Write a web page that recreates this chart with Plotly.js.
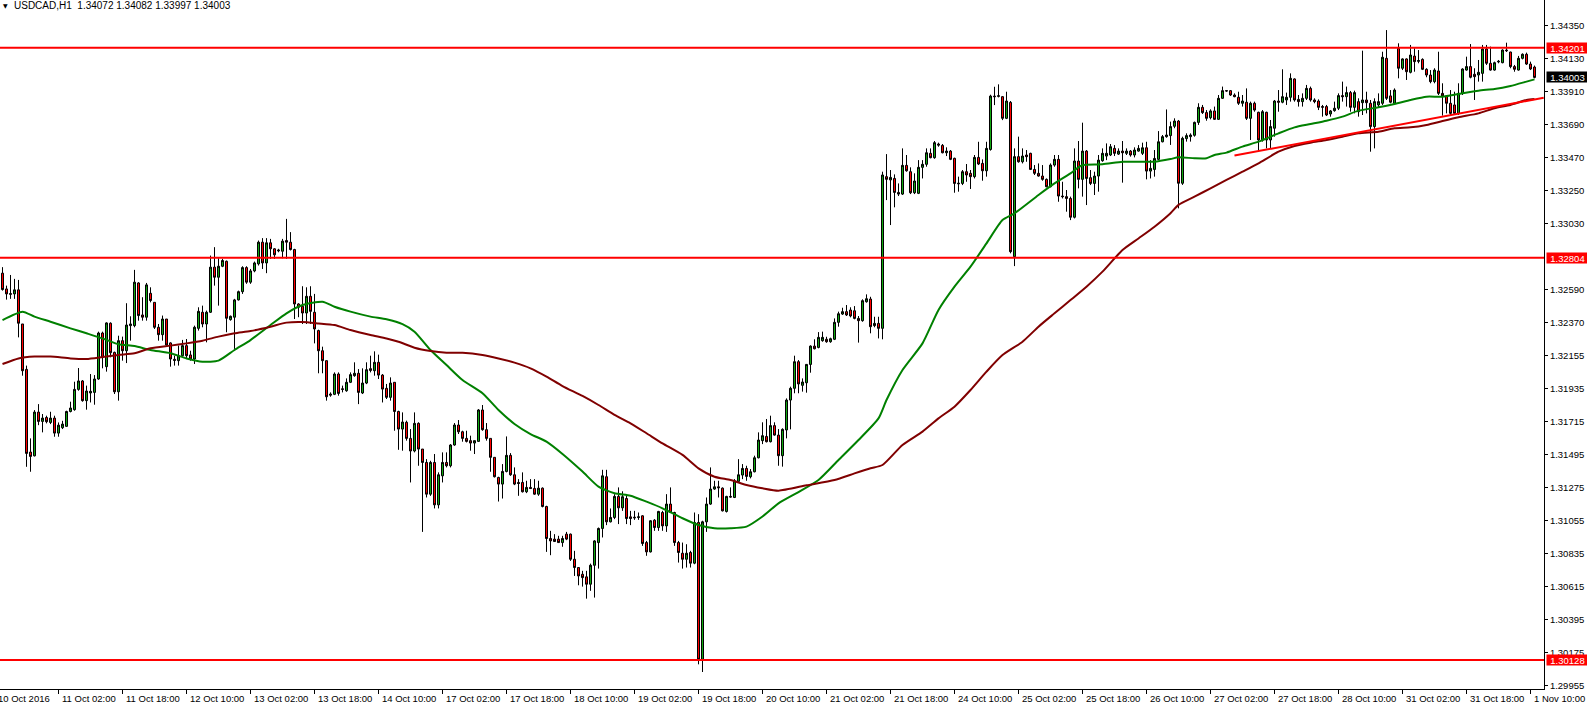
<!DOCTYPE html>
<html>
<head>
<meta charset="utf-8">
<script src="https://cdn.plot.ly/plotly-3.0.1.min.js"></script>
<style>
html,body{margin:0;padding:0;background:#fff;}
#chart{width:1587px;height:708px;}
</style>
</head>
<body>
<div id="chart"></div>
<script>
// ---------- DATA ----------
const symbolTitle = 'USDCAD,H1\u00a0\u00a01.34072 1.34082 1.33997 1.34003';

const open = [
1.32701,1.32596,1.32565,1.32563,1.32590,1.32363,1.32061,1.31511,1.31486,1.31777,
1.31715,1.31741,1.31708,1.31737,1.31637,1.31673,1.31682,1.31781,1.31793,1.31928,
1.31984,1.31853,1.31904,1.31908,1.31997,1.32303,1.32079,1.32368,1.32174,1.31912,
1.32252,1.32185,1.32352,1.32352,1.32636,1.32423,1.32408,1.32567,1.32507,1.32341,
1.32292,1.32396,1.32237,1.32128,1.32119,1.32152,1.32219,1.32157,1.32130,1.32334,
1.32441,1.32363,1.32441,1.32741,1.32674,1.32747,1.32780,1.32392,1.32408,1.32523,
1.32578,1.32738,1.32641,1.32716,1.32763,1.32907,1.32769,1.32903,1.32863,1.32849,
1.32847,1.32918,1.32907,1.32858,1.32496,1.32481,1.32436,1.32547,1.32441,1.32319,
1.32185,1.32119,1.31897,1.31895,1.32030,1.31932,1.31919,1.31975,1.32019,1.32035,
1.31904,1.31970,1.32066,1.32052,1.32108,1.32023,1.31935,1.31875,1.31975,1.31781,
1.31664,1.31709,1.31602,1.31518,1.31702,1.31531,1.31442,1.31231,1.31442,1.31160,
1.31353,1.31442,1.31420,1.31558,1.31691,1.31646,1.31602,1.31587,1.31571,1.31582,
1.31791,1.31660,1.31602,1.31476,1.31342,1.31298,1.31382,1.31489,1.31360,1.31309,
1.31309,1.31247,1.31276,1.31269,1.31231,1.31271,1.31149,1.30936,1.30932,1.30932,
1.30909,1.30965,1.30965,1.30798,1.30743,1.30698,1.30681,1.30632,1.30758,1.30909,
1.31003,1.31347,1.31047,1.31076,1.31216,1.31140,1.31202,1.31080,1.31078,1.31076,
1.31087,1.30909,1.30847,1.31058,1.31009,1.31109,1.31020,1.31165,1.31109,1.30909,
1.30838,1.30798,1.30843,1.30772,1.31043,1.30132,1.31047,1.31165,1.31265,1.31280,
1.31271,1.31116,1.31216,1.31209,1.31316,1.31358,1.31402,1.31347,1.31380,1.31473,
1.31587,1.31615,1.31580,1.31687,1.31624,1.31487,1.31658,1.31857,1.31935,1.32112,
1.31955,1.31972,1.32094,1.32216,1.32207,1.32252,1.32261,1.32245,1.32261,1.32374,
1.32429,1.32445,1.32456,1.32451,1.32400,1.32385,1.32511,1.32529,1.32352,1.32367,
1.32334,1.33343,1.33321,1.33331,1.33238,1.33227,1.33418,1.33376,1.33236,1.33232,
1.33405,1.33425,1.33498,1.33469,1.33560,1.33551,1.33502,1.33513,1.33465,1.33300,
1.33298,1.33376,1.33365,1.33343,1.33471,1.33431,1.33382,1.33524,1.33879,1.33877,
1.33875,1.33731,1.33837,1.32811,1.33476,1.33442,1.33487,1.33498,1.33391,1.33365,
1.33347,1.33325,1.33276,1.33420,1.33458,1.33214,1.33210,1.33198,1.33073,1.33447,
1.33325,1.33513,1.33336,1.33298,1.33347,1.33449,1.33480,1.33487,1.33531,1.33493,
1.33513,1.33498,1.33513,1.33487,1.33513,1.33498,1.33535,1.33380,1.33391,1.33458,
1.33575,1.33609,1.33616,1.33678,1.33713,1.33299,1.33596,1.33609,1.33618,1.33704,
1.33804,1.33769,1.33735,1.33780,1.33724,1.33864,1.33915,1.33915,1.33886,1.33871,
1.33831,1.33838,1.33731,1.33831,1.33771,1.33587,1.33771,1.33587,1.33665,1.33846,
1.33838,1.33853,1.33871,1.33993,1.33857,1.33842,1.33864,1.33930,1.33853,1.33846,
1.33809,1.33809,1.33760,1.33782,1.33798,1.33882,1.33875,1.33902,1.33804,1.33842,
1.33835,1.33853,1.33831,1.33676,1.33820,1.33831,1.34130,1.33880,1.33831,1.34197,
1.34064,1.34126,1.34037,1.34145,1.34110,1.34123,1.34057,1.34019,1.33975,1.34046,
1.33897,1.33880,1.33831,1.33820,1.33764,1.33897,1.34052,1.34075,1.34024,1.34019,
1.34030,1.34192,1.34097,1.34052,1.34106,1.34101,1.34185,1.34172,1.34075,1.34052,
1.34130,1.34157,1.34092,1.34072];

const high = [
1.32741,1.32618,1.32689,1.32663,1.32656,1.32363,1.32086,1.31602,1.31790,1.31830,
1.31764,1.31753,1.31779,1.31753,1.31708,1.31719,1.31786,1.31846,1.31979,1.32070,
1.31990,1.31953,1.32030,1.32023,1.32312,1.32312,1.32374,1.32374,1.32179,1.32285,
1.32279,1.32501,1.32414,1.32723,1.32641,1.32541,1.32636,1.32607,1.32507,1.32363,
1.32419,1.32396,1.32241,1.32152,1.32219,1.32257,1.32263,1.32185,1.32352,1.32474,
1.32485,1.32452,1.32818,1.32874,1.32800,1.32796,1.32785,1.32419,1.32530,1.32585,
1.32747,1.32747,1.32729,1.32778,1.32918,1.32934,1.32934,1.32929,1.32867,1.32863,
1.32929,1.33062,1.32974,1.32863,1.32501,1.32614,1.32607,1.32614,1.32563,1.32325,
1.32212,1.32119,1.31908,1.32041,1.32041,1.31953,1.32001,1.32041,1.32108,1.32063,
1.32068,1.32108,1.32152,1.32181,1.32159,1.32030,1.31964,1.32008,1.31975,1.31786,
1.31775,1.31720,1.31664,1.31775,1.31709,1.31531,1.31464,1.31453,1.31498,1.31376,
1.31509,1.31509,1.31564,1.31704,1.31724,1.31653,1.31653,1.31620,1.31587,1.31797,
1.31824,1.31704,1.31602,1.31476,1.31347,1.31431,1.31615,1.31504,1.31409,1.31331,
1.31376,1.31320,1.31331,1.31331,1.31320,1.31276,1.31154,1.30987,1.30965,1.30954,
1.30954,1.30980,1.30969,1.30854,1.30743,1.30721,1.30721,1.30769,1.30925,1.31009,
1.31393,1.31393,1.31136,1.31231,1.31276,1.31250,1.31231,1.31120,1.31120,1.31109,
1.31091,1.30920,1.31058,1.31065,1.31120,1.31120,1.31231,1.31276,1.31114,1.30920,
1.30909,1.30898,1.30854,1.31109,1.31098,1.31054,1.31209,1.31409,1.31320,1.31320,
1.31276,1.31220,1.31276,1.31331,1.31464,1.31431,1.31420,1.31398,1.31487,1.31642,
1.31709,1.31731,1.31753,1.31709,1.31664,1.31669,1.31868,1.31946,1.32152,1.32123,
1.32001,1.32097,1.32221,1.32261,1.32309,1.32312,1.32278,1.32272,1.32400,1.32445,
1.32471,1.32489,1.32474,1.32482,1.32416,1.32527,1.32560,1.32544,1.32411,1.32411,
1.33376,1.33493,1.33387,1.33358,1.33298,1.33531,1.33487,1.33405,1.33365,1.33453,
1.33453,1.33531,1.33531,1.33580,1.33569,1.33560,1.33538,1.33520,1.33469,1.33343,
1.33387,1.33427,1.33387,1.33487,1.33575,1.33458,1.33575,1.33888,1.33941,1.33957,
1.33879,1.33908,1.33846,1.33531,1.33609,1.33531,1.33520,1.33502,1.33420,1.33431,
1.33420,1.33331,1.33431,1.33487,1.33487,1.33309,1.33254,1.33210,1.33531,1.33580,
1.33702,1.33520,1.33387,1.33376,1.33487,1.33531,1.33564,1.33560,1.33553,1.33531,
1.33580,1.33531,1.33520,1.33538,1.33553,1.33569,1.33575,1.33453,1.33520,1.33646,
1.33620,1.33790,1.33709,1.33731,1.33720,1.33609,1.33631,1.33631,1.33709,1.33831,
1.33820,1.33786,1.33791,1.33809,1.33886,1.33942,1.33919,1.33919,1.33897,1.33908,
1.33886,1.33930,1.33842,1.33842,1.33775,1.33786,1.33775,1.33720,1.33853,1.33919,
1.34057,1.33902,1.34030,1.33997,1.33886,1.33897,1.33953,1.33942,1.33864,1.33857,
1.33820,1.33820,1.33786,1.33842,1.33897,1.33975,1.33942,1.33913,1.33915,1.33864,
1.34181,1.33908,1.33853,1.33864,1.33897,1.34174,1.34318,1.33919,1.33930,1.34230,
1.34130,1.34130,1.34219,1.34197,1.34185,1.34130,1.34064,1.34052,1.34064,1.34174,
1.33964,1.33880,1.33919,1.33908,1.33964,1.34064,1.34141,1.34225,1.34064,1.34119,
1.34219,1.34219,1.34208,1.34108,1.34119,1.34190,1.34234,1.34174,1.34086,1.34146,
1.34163,1.34168,1.34108,1.34082];

const low = [
1.32585,1.32525,1.32530,1.32530,1.32274,1.32019,1.31413,1.31380,1.31482,1.31690,
1.31642,1.31702,1.31697,1.31613,1.31613,1.31664,1.31679,1.31775,1.31786,1.31919,
1.31846,1.31793,1.31841,1.31826,1.31992,1.32068,1.32046,1.32141,1.31897,1.31853,
1.32119,1.32103,1.32252,1.32341,1.32385,1.32385,1.32385,1.32507,1.32330,1.32252,
1.32252,1.32219,1.32079,1.32086,1.32086,1.32146,1.32130,1.32119,1.32097,1.32319,
1.32341,1.32241,1.32436,1.32618,1.32485,1.32741,1.32308,1.32385,1.32197,1.32519,
1.32563,1.32630,1.32630,1.32707,1.32752,1.32729,1.32701,1.32796,1.32796,1.32840,
1.32800,1.32796,1.32852,1.32396,1.32408,1.32363,1.32363,1.32363,1.32234,1.32035,
1.32035,1.31853,1.31879,1.31890,1.31886,1.31908,1.31912,1.31970,1.32012,1.31830,
1.31897,1.31963,1.32041,1.32019,1.31997,1.31841,1.31864,1.31853,1.31653,1.31526,
1.31520,1.31587,1.31309,1.31509,1.31420,1.30980,1.31209,1.31220,1.31136,1.31136,
1.31309,1.31409,1.31409,1.31553,1.31631,1.31580,1.31575,1.31520,1.31498,1.31580,
1.31653,1.31587,1.31380,1.31342,1.31182,1.31202,1.31376,1.31353,1.31291,1.31220,
1.31242,1.31238,1.31265,1.31227,1.31220,1.31143,1.30847,1.30825,1.30914,1.30909,
1.30881,1.30925,1.30787,1.30687,1.30625,1.30616,1.30536,1.30588,1.30543,1.30736,
1.30943,1.31025,1.31043,1.31065,1.31032,1.31120,1.31032,1.31025,1.31060,1.31060,
1.30887,1.30821,1.30843,1.30987,1.30987,1.30987,1.30980,1.31109,1.30887,1.30776,
1.30736,1.30743,1.30743,1.30765,1.30099,1.30048,1.30980,1.31160,1.31260,1.31209,
1.31116,1.31109,1.31209,1.31205,1.31309,1.31331,1.31320,1.31336,1.31376,1.31469,
1.31564,1.31575,1.31575,1.31620,1.31420,1.31414,1.31602,1.31662,1.31902,1.31902,
1.31913,1.31906,1.32039,1.32194,1.32201,1.32245,1.32238,1.32238,1.32256,1.32345,
1.32423,1.32416,1.32407,1.32394,1.32239,1.32378,1.32505,1.32301,1.32341,1.32267,
1.32261,1.33187,1.33021,1.33139,1.33214,1.33221,1.33376,1.33227,1.33227,1.33227,
1.33331,1.33409,1.33465,1.33462,1.33542,1.33498,1.33480,1.33453,1.33236,1.33243,
1.33287,1.33309,1.33261,1.33331,1.33420,1.33316,1.33343,1.33516,1.33819,1.33870,
1.33719,1.33726,1.32833,1.32748,1.33436,1.33431,1.33442,1.33387,1.33354,1.33343,
1.33316,1.33272,1.33272,1.33409,1.33176,1.33198,1.33110,1.33054,1.33065,1.33265,
1.33210,1.33154,1.33287,1.33221,1.33243,1.33442,1.33453,1.33480,1.33480,1.33487,
1.33303,1.33487,1.33476,1.33471,1.33509,1.33487,1.33325,1.33331,1.33343,1.33453,
1.33571,1.33602,1.33554,1.33665,1.33132,1.33288,1.33576,1.33576,1.33609,1.33687,
1.33760,1.33715,1.33724,1.33720,1.33720,1.33860,1.33908,1.33880,1.33871,1.33820,
1.33809,1.33720,1.33587,1.33775,1.33509,1.33576,1.33531,1.33531,1.33609,1.33775,
1.33831,1.33820,1.33842,1.33842,1.33809,1.33809,1.33853,1.33842,1.33831,1.33786,
1.33742,1.33746,1.33742,1.33775,1.33786,1.33842,1.33809,1.33775,1.33764,1.33742,
1.33753,1.33764,1.33509,1.33531,1.33805,1.33820,1.33853,1.33831,1.33826,1.33997,
1.34052,1.33986,1.34030,1.34041,1.34097,1.34052,1.34004,1.33964,1.33964,1.33886,
1.33749,1.33764,1.33753,1.33753,1.33753,1.33886,1.34048,1.33997,1.33853,1.33975,
1.33975,1.34086,1.34048,1.34048,1.34097,1.34097,1.34172,1.34064,1.34041,1.34048,
1.34123,1.34086,1.34052,1.33997];

const close = [
1.32592,1.32563,1.32561,1.32590,1.32368,1.32052,1.31502,1.31482,1.31777,1.31715,
1.31737,1.31713,1.31737,1.31637,1.31690,1.31697,1.31781,1.31804,1.31928,1.31984,
1.31853,1.31917,1.31915,1.31997,1.32303,1.32141,1.32370,1.32172,1.31912,1.32252,
1.32185,1.32356,1.32363,1.32641,1.32419,1.32408,1.32623,1.32519,1.32341,1.32292,
1.32396,1.32223,1.32130,1.32121,1.32152,1.32219,1.32152,1.32130,1.32341,1.32447,
1.32363,1.32441,1.32741,1.32674,1.32747,1.32785,1.32401,1.32414,1.32523,1.32578,
1.32738,1.32641,1.32716,1.32769,1.32907,1.32769,1.32903,1.32863,1.32823,1.32854,
1.32914,1.32907,1.32858,1.32496,1.32474,1.32436,1.32547,1.32447,1.32330,1.32185,
1.32119,1.31879,1.31890,1.32030,1.31901,1.31928,1.31975,1.32026,1.32035,1.31908,
1.31970,1.32059,1.32054,1.32108,1.32023,1.31930,1.31875,1.31970,1.31781,1.31664,
1.31711,1.31602,1.31518,1.31702,1.31531,1.31442,1.31231,1.31442,1.31160,1.31360,
1.31442,1.31420,1.31558,1.31691,1.31646,1.31602,1.31582,1.31571,1.31587,1.31791,
1.31660,1.31602,1.31476,1.31347,1.31298,1.31382,1.31489,1.31360,1.31298,1.31302,
1.31247,1.31276,1.31269,1.31231,1.31271,1.31149,1.30936,1.30920,1.30916,1.30909,
1.30936,1.30932,1.30798,1.30743,1.30687,1.30676,1.30632,1.30758,1.30920,1.31003,
1.31353,1.31047,1.31076,1.31216,1.31140,1.31214,1.31069,1.31069,1.31074,1.31080,
1.30903,1.30847,1.31054,1.31009,1.31116,1.31020,1.31165,1.31109,1.30909,1.30843,
1.30798,1.30838,1.30772,1.31043,1.30132,1.31047,1.31165,1.31265,1.31280,1.31274,
1.31120,1.31216,1.31212,1.31320,1.31360,1.31402,1.31349,1.31380,1.31473,1.31591,
1.31620,1.31580,1.31687,1.31624,1.31487,1.31662,1.31857,1.31935,1.32112,1.31964,
1.31977,1.32094,1.32216,1.32198,1.32274,1.32274,1.32245,1.32265,1.32374,1.32431,
1.32445,1.32423,1.32416,1.32400,1.32385,1.32518,1.32531,1.32345,1.32367,1.32334,
1.33354,1.33325,1.33338,1.33238,1.33227,1.33418,1.33382,1.33236,1.33314,1.33405,
1.33425,1.33502,1.33469,1.33569,1.33553,1.33502,1.33513,1.33458,1.33298,1.33296,
1.33376,1.33354,1.33343,1.33471,1.33427,1.33382,1.33531,1.33879,1.33875,1.33881,
1.33731,1.33846,1.32844,1.33476,1.33442,1.33480,1.33476,1.33391,1.33365,1.33347,
1.33325,1.33276,1.33420,1.33458,1.33214,1.33210,1.33198,1.33073,1.33447,1.33325,
1.33513,1.33331,1.33298,1.33347,1.33453,1.33498,1.33498,1.33542,1.33498,1.33513,
1.33502,1.33513,1.33487,1.33520,1.33531,1.33535,1.33380,1.33398,1.33464,1.33575,
1.33609,1.33620,1.33676,1.33713,1.33299,1.33598,1.33616,1.33620,1.33704,1.33804,
1.33769,1.33731,1.33780,1.33724,1.33864,1.33915,1.33913,1.33886,1.33875,1.33831,
1.33846,1.33731,1.33831,1.33786,1.33587,1.33775,1.33587,1.33676,1.33846,1.33838,
1.33875,1.33871,1.33997,1.33853,1.33842,1.33864,1.33930,1.33853,1.33842,1.33804,
1.33805,1.33753,1.33780,1.33798,1.33882,1.33875,1.33902,1.33804,1.33902,1.33775,
1.33853,1.33835,1.33676,1.33842,1.33842,1.34137,1.33864,1.33838,1.33919,1.34064,
1.34126,1.34041,1.34152,1.34108,1.34115,1.34057,1.34019,1.33975,1.34052,1.33897,
1.33880,1.33831,1.33764,1.33764,1.33897,1.34059,1.34075,1.34004,1.34008,1.34037,
1.34192,1.34097,1.34052,1.34101,1.34110,1.34185,1.34181,1.34075,1.34057,1.34130,
1.34157,1.34092,1.34059,1.34003];

// fast moving average (green) at these bars
const maFastBars = [0,5,8,12,17,21,25,29,33,37,42,46,50,54,58,62,67,71,75,80,83,87,92,96,100,103,107,111,115,120,124,128,132,136,140,145,149,153,157,161,165,170,174,178,182,186,190,194,199,204,209,214,219,221,225,230,234,238,242,246,250,253,259,263,267,270,275,280,284,288,292,294,298,301,303,306,310,314,319,323,327,331,335,339,344,348,352,356,360,364,369,373,377,381,383];
const maFastVals = [1.32389,1.32445,1.32412,1.32378,1.32334,1.32301,1.32267,1.32228,1.32216,1.32190,1.32168,1.32134,1.32112,1.32119,1.32190,1.32256,1.32356,1.32434,1.32489,1.32511,1.32478,1.32445,1.32412,1.32394,1.32362,1.32312,1.32190,1.32090,1.31990,1.31902,1.31791,1.31698,1.31631,1.31580,1.31498,1.31381,1.31281,1.31237,1.31221,1.31181,1.31137,1.31071,1.31026,1.31004,1.31004,1.31015,1.31082,1.31170,1.31245,1.31325,1.31458,1.31591,1.31735,1.31857,1.32057,1.32234,1.32456,1.32611,1.32744,1.32899,1.33054,1.33099,1.33221,1.33298,1.33365,1.33420,1.33425,1.33442,1.33442,1.33442,1.33460,1.33472,1.33465,1.33465,1.33487,1.33503,1.33543,1.33576,1.33631,1.33671,1.33693,1.33715,1.33742,1.33782,1.33804,1.33826,1.33853,1.33875,1.33875,1.33893,1.33915,1.33926,1.33946,1.33975,1.33990];

// slow moving average (maroon) at these bars
const maSlowBars = [0,4,8,12,17,21,25,29,33,37,42,46,50,54,58,62,67,71,75,79,83,87,92,96,99,103,107,111,115,120,124,128,132,136,140,145,149,153,157,161,165,170,174,178,182,186,190,194,201,208,213,217,220,225,230,234,238,242,246,250,255,259,263,267,271,275,280,284,288,292,294,298,302,306,310,314,319,323,327,331,335,339,344,348,352,356,360,364,369,373,377,381,383];
const maSlowVals = [1.32097,1.32134,1.32146,1.32146,1.32134,1.32130,1.32143,1.32157,1.32168,1.32201,1.32219,1.32234,1.32252,1.32279,1.32301,1.32316,1.32345,1.32372,1.32376,1.32367,1.32356,1.32323,1.32290,1.32267,1.32245,1.32205,1.32183,1.32172,1.32172,1.32157,1.32134,1.32106,1.32068,1.32013,1.31950,1.31884,1.31824,1.31758,1.31702,1.31636,1.31569,1.31492,1.31403,1.31347,1.31325,1.31292,1.31270,1.31254,1.31290,1.31325,1.31369,1.31403,1.31425,1.31558,1.31647,1.31735,1.31813,1.31924,1.32046,1.32156,1.32245,1.32345,1.32434,1.32522,1.32611,1.32711,1.32855,1.32932,1.33010,1.33100,1.33155,1.33210,1.33265,1.33321,1.33376,1.33432,1.33509,1.33547,1.33569,1.33587,1.33609,1.33631,1.33642,1.33665,1.33671,1.33687,1.33713,1.33738,1.33764,1.33798,1.33820,1.33853,1.33860];

// horizontal levels and trend line
const levels = [1.34201, 1.32804, 1.30128];
const lastPrice = 1.34003;
const trendBars = [308, 385.3];
const trendVals = [1.33483, 1.33868];

// axis labels
const tickBars = [14,30,46,62,78,94,110,126,142,158,174,190,206,222,238,254,270,286,302,318,334,350,366,382];
const tickLabels = ['11 Oct 02:00','11 Oct 18:00','12 Oct 10:00','13 Oct 02:00','13 Oct 18:00','14 Oct 10:00',
  '17 Oct 02:00','17 Oct 18:00','18 Oct 10:00','19 Oct 02:00','19 Oct 18:00','20 Oct 10:00',
  '21 Oct 02:00','21 Oct 18:00','24 Oct 10:00','25 Oct 02:00','25 Oct 18:00','26 Oct 10:00',
  '27 Oct 02:00','27 Oct 18:00','28 Oct 10:00','31 Oct 02:00','31 Oct 18:00','1 Nov 10:00'];
const firstLabel = '10 Oct 2016';
const priceTicks = [1.34350,1.34130,1.33910,1.33690,1.33470,1.33250,1.33030,1.32590,1.32370,1.32155,1.31935,1.31715,1.31495,1.31275,1.31055,1.30835,1.30615,1.30395,1.30175,1.29955];

// ---------- CHART ----------
const FONT = 'Liberation Sans, Arial, sans-serif';
const bars = open.map((_, i) => i);

const traces = [
  {
    type: 'candlestick', x: bars, open: open, high: high, low: low, close: close,
    increasing: {line: {color: '#000000', width: 1}, fillcolor: '#10a810'},
    decreasing: {line: {color: '#000000', width: 1}, fillcolor: '#ff0000'},
    whiskerwidth: 0, hoverinfo: 'skip', showlegend: false
  },
  {
    type: 'scatter', mode: 'lines', x: maFastBars, y: maFastVals,
    line: {color: '#008000', width: 2, shape: 'spline', smoothing: 0.6},
    hoverinfo: 'skip', showlegend: false
  },
  {
    type: 'scatter', mode: 'lines', x: maSlowBars, y: maSlowVals,
    line: {color: '#800000', width: 2, shape: 'spline', smoothing: 0.6},
    hoverinfo: 'skip', showlegend: false
  }
];

const shapes = levels.map(v => ({
  type: 'line', xref: 'paper', x0: 0, x1: 1, yref: 'y', y0: v, y1: v,
  line: {color: '#ff0000', width: 2}
}));
shapes.push({
  type: 'line', xref: 'x', yref: 'y',
  x0: trendBars[0], y0: trendVals[0], x1: trendBars[1], y1: trendVals[1],
  line: {color: '#ff0000', width: 2}
});

const annotations = [];
tickBars.forEach((b, k) => {
  annotations.push({
    xref: 'x', x: b, xanchor: 'left', xshift: 1,
    yref: 'paper', y: 0, yanchor: 'top', yshift: -2,
    text: tickLabels[k], showarrow: false,
    font: {family: FONT, size: 9.5, color: '#000'}
  });
});
annotations.push({
  xref: 'paper', x: 0, xanchor: 'left', xshift: -4,
  yref: 'paper', y: 0, yanchor: 'top', yshift: -2,
  text: firstLabel, showarrow: false,
  font: {family: FONT, size: 9.5, color: '#000'}
});
levels.forEach(v => {
  annotations.push({
    xref: 'paper', x: 1, xanchor: 'left', xshift: 2,
    yref: 'y', y: v, yanchor: 'middle',
    text: v.toFixed(5), showarrow: false, bgcolor: '#ff0000',
    width: 41, height: 10, borderpad: 0,
    font: {family: FONT, size: 9.5, color: '#fff'}
  });
});
annotations.push({
  xref: 'paper', x: 1, xanchor: 'left', xshift: 2,
  yref: 'y', y: lastPrice, yanchor: 'middle',
  text: lastPrice.toFixed(5), showarrow: false, bgcolor: '#000000',
  width: 41, height: 10, borderpad: 0,
  font: {family: FONT, size: 9.5, color: '#fff'}
});
annotations.push({
  xref: 'paper', x: 0, xanchor: 'left', xshift: 1,
  yref: 'paper', y: 1, yanchor: 'middle', yshift: -5,
  text: '\u25BC', showarrow: false,
  font: {family: 'DejaVu Sans, sans-serif', size: 6, color: '#000'}
});

const layout = {
  width: 1587, height: 708,
  margin: {l: 0, r: 43, t: 0, b: 19, pad: 0},
  paper_bgcolor: '#ffffff', plot_bgcolor: '#ffffff',
  showlegend: false, boxgap: 0.5, boxgroupgap: 0,
  title: {
    text: symbolTitle, xref: 'container', x: 14 / 1587, xanchor: 'left',
    yref: 'container', y: 1 - 5.5 / 708, yanchor: 'middle',
    font: {family: FONT, size: 10, color: '#000'}
  },
  xaxis: {
    range: [-0.625, 385.375], autorange: false, fixedrange: true,
    rangeslider: {visible: false},
    showgrid: false, zeroline: false,
    showline: true, linecolor: '#000', linewidth: 1,
    tickmode: 'array', tickvals: tickBars, ticktext: tickBars.map(() => ''),
    ticks: 'outside', ticklen: 4, tickcolor: '#000', tickwidth: 1,
    showticklabels: false
  },
  yaxis: {
    side: 'right', range: [1.29935, 1.34518], autorange: false, fixedrange: true,
    showgrid: false, zeroline: false,
    showline: true, linecolor: '#000', linewidth: 1,
    tickmode: 'array', tickvals: priceTicks, ticktext: priceTicks.map(v => v.toFixed(5)),
    ticks: 'outside', ticklen: 3, tickcolor: '#000', tickwidth: 1,
    tickfont: {family: FONT, size: 9.5, color: '#000'}
  },
  shapes: shapes,
  annotations: annotations
};

Plotly.newPlot('chart', traces, layout, {staticPlot: true, displayModeBar: false});
</script>
</body>
</html>
